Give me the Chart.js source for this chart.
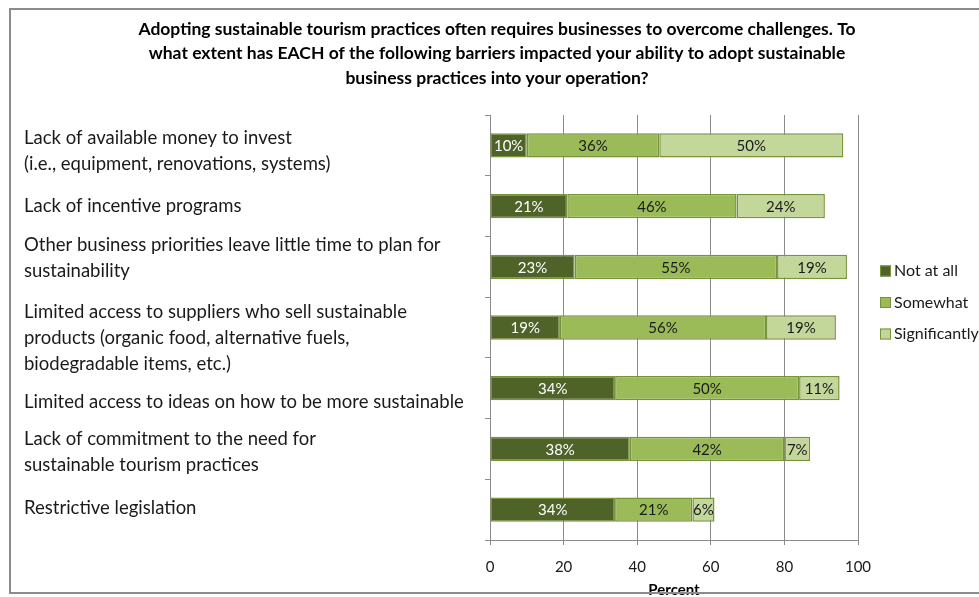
<!DOCTYPE html>
<html>
<head>
<meta charset="utf-8">
<script src="https://cdn.jsdelivr.net/npm/chart.js@4/dist/chart.umd.min.js"></script>
<style>
  html, body { margin: 0; padding: 0; background: #ffffff; }
  #wrap { position: relative; width: 979px; height: 597px; overflow: hidden; }
  #frame { position: absolute; left: 9px; top: 8px; width: 1000px; height: 586px;
           border: 2px solid #8c8c8c; box-sizing: border-box; pointer-events: none; }
  canvas { position: absolute; left: 0; top: 0; }
</style>
</head>
<body>
<div id="wrap">
  <canvas id="chart" width="979" height="597"></canvas>
  <div id="frame"></div>
</div>
<script>
const FONT = "Lato, 'Open Sans', 'Liberation Sans', sans-serif";

const titleLines = [
  'Adopting sustainable tourism practices often requires businesses to overcome challenges. To',
  'what extent has EACH of the following barriers impacted your ability to adopt sustainable',
  'business practices into your operation?'
];

const barriers = [
  ['Lack of available money to invest', '(i.e., equipment, renovations, systems)'],
  ['Lack of incentive programs'],
  ['Other business priorities leave little time to plan for', 'sustainability'],
  ['Limited access to suppliers who sell sustainable', 'products (organic food, alternative fuels,', 'biodegradable items, etc.)'],
  ['Limited access to ideas on how to be more sustainable'],
  ['Lack of commitment to the need for', 'sustainable tourism practices'],
  ['Restrictive legislation']
];

const seriesNames = ['Not at all', 'Somewhat', 'Significantly'];
const notAtAll      = [10, 21, 23, 19, 34, 38, 34];
const somewhat      = [36, 46, 55, 56, 50, 42, 21];
const significantly = [50, 24, 19, 19, 11, 7, 6];

const xTicks = [0, 20, 40, 60, 80, 100];

const fills = ['#4f6228', '#9bbb59', '#c4d79b'];
const labelColors = ['#ffffff', '#1a1a1a', '#1a1a1a'];
const edge = '#77933c';

// vertical nudges of the category text blocks (they sit in their own text boxes)
const labelNudge = [6, 0, -9, 11, 14, 3, -2];

// Percent labels centred inside each bar segment
const segmentLabels = {
  id: 'segmentLabels',
  afterDatasetsDraw(chart) {
    const ctx = chart.ctx;
    ctx.save();
    ctx.font = '15px ' + FONT;
    ctx.textAlign = 'center';
    ctx.textBaseline = 'middle';
    chart.data.datasets.forEach((ds, di) => {
      const meta = chart.getDatasetMeta(di);
      meta.data.forEach((bar, i) => {
        const p = bar.getProps(['x', 'y', 'base'], true);
        ctx.fillStyle = labelColors[di];
        ctx.fillText(ds.data[i] + '%', (p.x + p.base) / 2, p.y + 1);
      });
    });
    ctx.restore();
  }
};

// Left-aligned category text, one block per bar
const categoryText = {
  id: 'categoryText',
  afterDraw(chart) {
    const ctx = chart.ctx;
    const ys = chart.scales.y;
    const lh = 26;
    ctx.save();
    ctx.font = '18.5px ' + FONT;
    ctx.fillStyle = '#1a1a1a';
    ctx.textAlign = 'left';
    ctx.textBaseline = 'middle';
    chart.data.labels.forEach((lines, i) => {
      const cy = ys.getPixelForTick(i) + labelNudge[i];
      const top = cy - (lines.length - 1) * lh / 2;
      lines.forEach((t, k) => ctx.fillText(t, ys.left, top + k * lh));
    });
    ctx.restore();
  }
};

// Vertical legend to the right of the plot
const sideLegend = {
  id: 'sideLegend',
  afterDraw(chart) {
    const ctx = chart.ctx;
    const area = chart.chartArea;
    const x = area.right + 22;
    const y0 = area.top + 156;
    ctx.save();
    ctx.font = '16px ' + FONT;
    ctx.textBaseline = 'middle';
    ctx.textAlign = 'left';
    chart.data.datasets.forEach((ds, i) => {
      const y = y0 + i * 31.5;
      ctx.fillStyle = ds.backgroundColor;
      ctx.fillRect(x, y - 5.5, 11, 11);
      ctx.strokeStyle = edge;
      ctx.lineWidth = 1;
      ctx.strokeRect(x + 0.5, y - 5, 10, 10);
      ctx.fillStyle = '#1a1a1a';
      ctx.fillText(ds.label, x + 14, y);
    });
    ctx.restore();
  }
};

const datasets = [notAtAll, somewhat, significantly].map((vals, i) => ({
  label: seriesNames[i],
  data: vals,
  backgroundColor: fills[i],
  borderColor: edge,
  borderWidth: 1.5,
  borderSkipped: false,
  categoryPercentage: 1,
  barPercentage: 0.4,
  yAxisID: 'y'
}));

new Chart(document.getElementById('chart'), {
  type: 'bar',
  data: { labels: barriers, datasets },
  plugins: [segmentLabels, categoryText, sideLegend],
  options: {
    indexAxis: 'y',
    responsive: false,
    animation: false,
    devicePixelRatio: 1,
    layout: { padding: { left: 24, right: 9, top: 0, bottom: 0 } },
    plugins: {
      legend: { display: false },
      tooltip: { enabled: false },
      title: {
        display: true,
        text: titleLines,
        color: '#000000',
        font: { family: FONT, size: 17.5, weight: 'bold', lineHeight: '24.5px' },
        padding: { top: 17, bottom: 24.5 }
      }
    },
    scales: {
      x: {
        stacked: true,
        min: 0,
        max: 100,
        afterBuildTicks(scale) { scale.ticks = xTicks.map(v => ({ value: v })); },
        afterFit(scale) { scale.height = 57; },
        grid: { color: '#8a8a8a', lineWidth: 1, tickLength: 5, drawTicks: true },
        border: { color: '#8a8a8a', width: 1 },
        ticks: { color: '#1a1a1a', font: { family: FONT, size: 15 }, padding: 13 },
        title: {
          display: true,
          text: 'Percent',
          color: '#000000',
          font: { family: FONT, size: 15, weight: 'bold' },
          padding: { top: 0, bottom: -2 }
        }
      },
      y: {
        stacked: true,
        afterFit(scale) { scale.width = 466; },
        grid: { offset: true, drawOnChartArea: false, color: '#8a8a8a', tickLength: 5 },
        border: { color: '#8a8a8a', width: 1 },
        ticks: { display: false, autoSkip: false }
      },
      // empty right-hand gutter that holds the legend
      gutter: {
        type: 'linear',
        axis: 'y',
        position: 'right',
        display: true,
        afterFit(scale) { scale.width = 112; },
        grid: { display: false, drawTicks: false },
        border: { display: false },
        ticks: { display: false }
      }
    }
  }
});
</script>
</body>
</html>
